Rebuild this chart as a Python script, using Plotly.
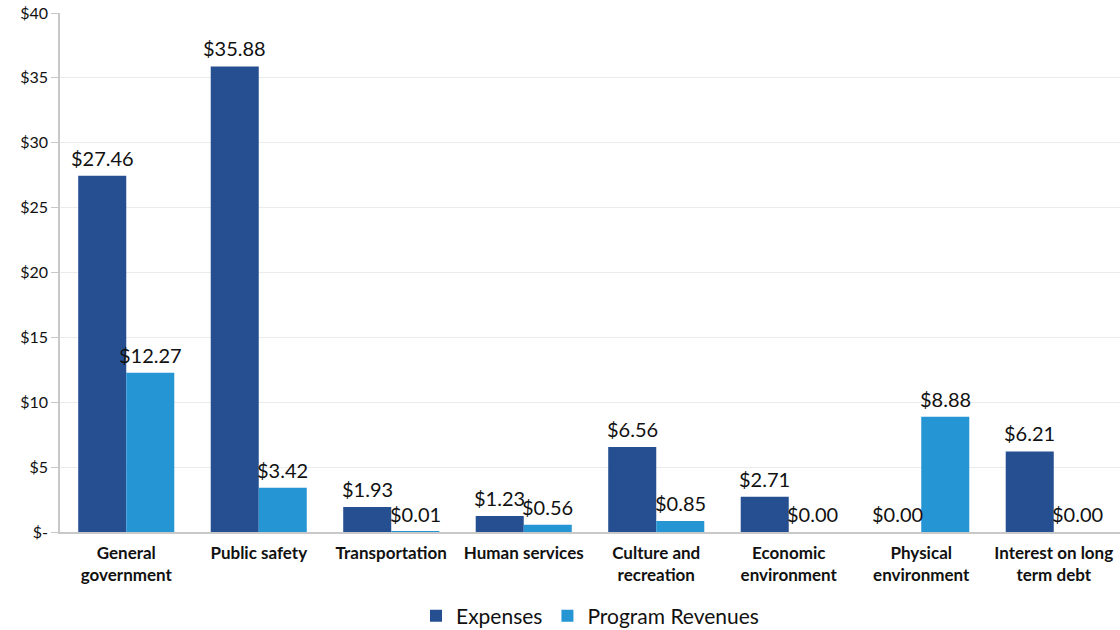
import plotly.graph_objects as go

categories = [
    "General<br>government",
    "Public safety",
    "Transportation",
    "Human services",
    "Culture and<br>recreation",
    "Economic<br>environment",
    "Physical<br>environment",
    "Interest on long<br>term debt",
]
expenses = [27.46, 35.88, 1.93, 1.23, 6.56, 2.71, 0.00, 6.21]
program_revenues = [12.27, 3.42, 0.01, 0.56, 0.85, 0.00, 8.88, 0.00]

tick_vals = [0, 5, 10, 15, 20, 25, 30, 35, 40]
tick_text = ["$-", "$5", "$10", "$15", "$20", "$25", "$30", "$35", "$40"]

DARK = "#264F92"
LIGHT = "#2595D4"
LABEL_FONT = dict(family="Lato", size=20, color="#111111")


def money(v):
    return f"${v:,.2f}"


fig = go.Figure()
fig.add_trace(go.Bar(
    name="Expenses", x=categories, y=expenses,
    marker=dict(color=DARK, line=dict(width=0)),
))
fig.add_trace(go.Bar(
    name="Program Revenues", x=categories, y=program_revenues,
    marker=dict(color=LIGHT, line=dict(width=0)),
))

# value labels above each bar (left bar = expenses, right bar = revenues)
for series, shift in ((expenses, -24), (program_revenues, 24)):
    for cat, val in zip(categories, series):
        fig.add_annotation(
            x=cat, y=val, xref="x", yref="y", text=money(val),
            showarrow=False, xanchor="center", yanchor="bottom",
            xshift=shift, yshift=4, font=LABEL_FONT,
        )

fig.update_layout(
    width=1120, height=630,
    margin=dict(l=60, r=0, t=13, b=98, autoexpand=False),
    paper_bgcolor="white", plot_bgcolor="white",
    barmode="group", bargap=0.275, bargroupgap=0,
    showlegend=True,
    legend=dict(
        orientation="h", x=0.5, xanchor="center", y=-0.162, yanchor="middle",
        font=dict(family="Lato", size=21, color="#111111"),
        itemwidth=30, traceorder="normal",
    ),
    font=dict(family="Lato", color="#111111"),
)
fig.update_xaxes(
    showline=True, linecolor="#c8c8c8", linewidth=1.5,
    ticks="", showgrid=False, ticklabelstandoff=5,
    tickfont=dict(family="Lato", size=17, color="#111111", weight="bold"),
)
fig.update_yaxes(
    range=[0, 40], tickvals=tick_vals, ticktext=tick_text,
    showline=True, linecolor="#c8c8c8", linewidth=1.5,
    ticks="outside", ticklen=7, tickcolor="#c8c8c8",
    showgrid=True, gridcolor="#ebebeb", gridwidth=1,
    zeroline=False,
    tickfont=dict(family="Lato", size=16, color="#111111"),
)

fig.write_html("out.html")
